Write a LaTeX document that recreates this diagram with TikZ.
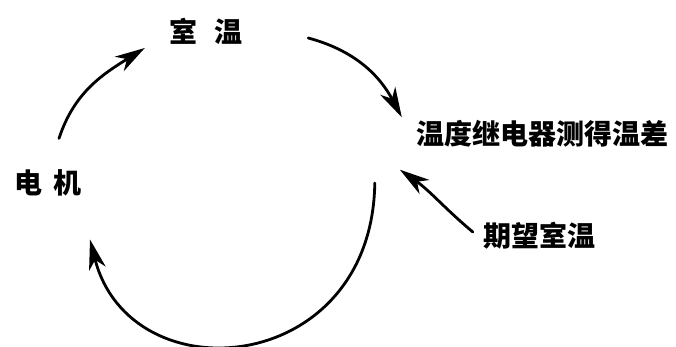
\documentclass[tikz,border=0pt]{standalone}
\usepackage{fontspec}
\newfontfamily\cjk{Noto Sans CJK SC}
\usetikzlibrary{arrows.meta,calc}

\tikzset{
  lbl/.style={font=\cjk\bfseries\fontsize{28}{30}\selectfont, inner sep=3pt},
  flow/.style={line width=2.8pt, line cap=round, -{Stealth[length=30pt,width=17pt,inset=9pt]}}
}

\begin{document}
\begin{tikzpicture}[x=1pt,y=1pt]
  \useasboundingbox (0,0) rectangle (676,347);
  % labels
  \node[lbl] (shiwen) at (206,316) {室\hspace{18pt}温};
  \node[lbl] (wencha) at (542,213) {温度继电器测得温差};
  \node[lbl] (dianji) at (48,164) {电\hspace{12pt}机};
  \node[lbl] (qiwang) at (539,111) {期望室温};
  % loop
  \draw[flow] ($(dianji.north)+(11,28)$) to[out=72,in=212] ($(shiwen.west)+(-21,-17)$);
  \draw[flow] ($(shiwen.east)+(62,-7)$) to[out=-15,in=118] ($(wencha.north west)+(-11,0)$);
  \draw[flow] ($(wencha.west)+(-38,-49)$) .. controls (372,-30) and (130,-50) .. ($(dianji.south)+(42,-40)$);
  \draw[flow] ($(qiwang.west)+(-7,4)$) to[out=140,in=-35] ($(wencha.south west)+(-13,-19)$);
\end{tikzpicture}
\end{document}
